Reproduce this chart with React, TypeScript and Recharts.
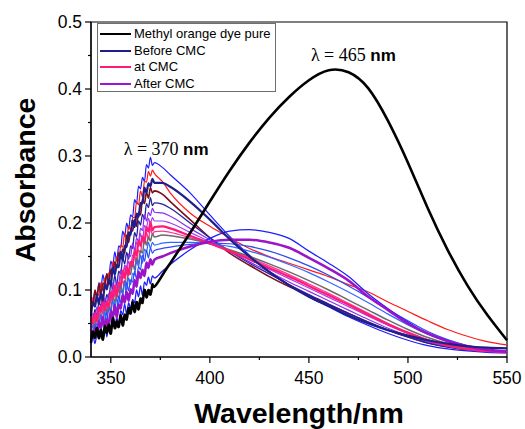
import { LineChart, Line, XAxis, YAxis, ReferenceArea, ReferenceDot, Legend } from 'recharts';

// wavelength grid (nm): 1 nm steps where the spectra are noisy, coarser afterwards
const wavelengths = [
  340, 341, 342, 343, 344, 345, 346, 347, 348, 349, 350, 351, 352, 353, 354, 355, 356,
  357, 358, 359, 360, 361, 362, 363, 364, 365, 366, 367, 368, 369, 370, 371, 372,
  376, 380, 390, 400, 410, 420, 430, 440, 450, 460, 470, 480, 490, 500, 510, 520, 530, 540, 550,
];

const pureDye = [
  0.021, 0.038, 0.029, 0.043, 0.028, 0.040, 0.026, 0.046, 0.036, 0.048, 0.035, 0.058, 0.043, 0.053, 0.045, 0.063, 0.047,
  0.063, 0.056, 0.073, 0.065, 0.082, 0.067, 0.082, 0.071, 0.087, 0.081, 0.100, 0.089, 0.100, 0.093, 0.108, 0.105,
  0.122, 0.14, 0.185, 0.232, 0.278, 0.32, 0.357, 0.388, 0.413, 0.428, 0.425, 0.401, 0.352, 0.29, 0.222, 0.16, 0.107, 0.063, 0.025,
];
const blueTop = [
  0.091, 0.081, 0.097, 0.087, 0.111, 0.104, 0.123, 0.110, 0.124, 0.119, 0.143, 0.136, 0.157, 0.143, 0.166, 0.163, 0.188,
  0.180, 0.200, 0.191, 0.212, 0.209, 0.235, 0.229, 0.255, 0.251, 0.268, 0.262, 0.287, 0.282, 0.298, 0.286, 0.290,
  0.283, 0.272, 0.245, 0.212, 0.18, 0.152, 0.128, 0.108, 0.09, 0.075, 0.06, 0.047, 0.035, 0.025, 0.017, 0.012, 0.009, 0.007, 0.006,
];
const redThin = [
  0.073, 0.089, 0.079, 0.095, 0.092, 0.111, 0.099, 0.118, 0.104, 0.126, 0.124, 0.142, 0.132, 0.150, 0.143, 0.167, 0.164,
  0.185, 0.174, 0.196, 0.189, 0.208, 0.208, 0.232, 0.227, 0.248, 0.239, 0.262, 0.261, 0.277, 0.270, 0.279, 0.274,
  0.262, 0.245, 0.215, 0.195, 0.178, 0.162, 0.15, 0.14, 0.13, 0.12, 0.108, 0.097, 0.082, 0.068, 0.054, 0.041, 0.031, 0.023, 0.018,
];
const beforeCmc = [
  0.061, 0.081, 0.075, 0.092, 0.079, 0.095, 0.084, 0.108, 0.101, 0.116, 0.107, 0.134, 0.123, 0.137, 0.134, 0.157, 0.144,
  0.166, 0.164, 0.186, 0.182, 0.204, 0.194, 0.214, 0.209, 0.230, 0.229, 0.253, 0.245, 0.259, 0.255, 0.266, 0.260,
  0.26, 0.254, 0.232, 0.205, 0.176, 0.15, 0.127, 0.107, 0.09, 0.076, 0.062, 0.05, 0.04, 0.032, 0.025, 0.02, 0.016, 0.014, 0.013,
];
const maroon = [
  0.088, 0.078, 0.100, 0.090, 0.109, 0.095, 0.110, 0.109, 0.124, 0.108, 0.131, 0.126, 0.142, 0.132, 0.156, 0.147, 0.161,
  0.155, 0.182, 0.171, 0.189, 0.188, 0.205, 0.195, 0.216, 0.212, 0.236, 0.229, 0.246, 0.237, 0.253, 0.245, 0.248,
  0.243, 0.232, 0.205, 0.178, 0.155, 0.137, 0.12, 0.105, 0.092, 0.078, 0.065, 0.052, 0.04, 0.03, 0.021, 0.015, 0.011, 0.009, 0.008,
];
const navy2 = [
  0.066, 0.055, 0.071, 0.060, 0.083, 0.075, 0.093, 0.080, 0.093, 0.087, 0.109, 0.101, 0.122, 0.107, 0.128, 0.124, 0.148,
  0.139, 0.156, 0.146, 0.166, 0.162, 0.186, 0.179, 0.203, 0.197, 0.213, 0.206, 0.229, 0.223, 0.238, 0.226, 0.230,
  0.228, 0.222, 0.2, 0.178, 0.158, 0.14, 0.124, 0.108, 0.093, 0.079, 0.065, 0.052, 0.04, 0.03, 0.021, 0.015, 0.011, 0.009, 0.008,
];
const purple1 = [
  0.046, 0.065, 0.059, 0.075, 0.062, 0.077, 0.065, 0.088, 0.080, 0.095, 0.085, 0.111, 0.099, 0.113, 0.108, 0.130, 0.117,
  0.137, 0.134, 0.154, 0.150, 0.170, 0.159, 0.178, 0.172, 0.192, 0.189, 0.212, 0.203, 0.216, 0.211, 0.222, 0.216,
  0.215, 0.21, 0.192, 0.175, 0.158, 0.142, 0.127, 0.112, 0.098, 0.084, 0.07, 0.056, 0.043, 0.032, 0.023, 0.016, 0.011, 0.008, 0.007,
];
const violet = [
  0.043, 0.058, 0.047, 0.062, 0.058, 0.076, 0.064, 0.082, 0.067, 0.088, 0.084, 0.101, 0.090, 0.106, 0.097, 0.121, 0.116,
  0.135, 0.123, 0.143, 0.134, 0.152, 0.150, 0.172, 0.165, 0.184, 0.173, 0.196, 0.193, 0.207, 0.199, 0.208, 0.203,
  0.203, 0.2, 0.186, 0.172, 0.158, 0.145, 0.131, 0.117, 0.103, 0.089, 0.075, 0.061, 0.047, 0.035, 0.025, 0.017, 0.012, 0.009, 0.007,
];
const atCmc = [
  0.061, 0.050, 0.065, 0.053, 0.075, 0.067, 0.084, 0.070, 0.082, 0.075, 0.097, 0.088, 0.107, 0.091, 0.111, 0.106, 0.129,
  0.118, 0.135, 0.123, 0.142, 0.137, 0.159, 0.151, 0.174, 0.166, 0.180, 0.172, 0.194, 0.187, 0.201, 0.189, 0.194,
  0.195, 0.192, 0.181, 0.17, 0.158, 0.146, 0.133, 0.12, 0.106, 0.092, 0.078, 0.063, 0.049, 0.036, 0.025, 0.017, 0.012, 0.009, 0.007,
];
const pink2 = [
  0.053, 0.043, 0.064, 0.053, 0.072, 0.057, 0.072, 0.069, 0.084, 0.067, 0.089, 0.083, 0.098, 0.088, 0.111, 0.101, 0.114,
  0.107, 0.133, 0.121, 0.138, 0.135, 0.152, 0.140, 0.160, 0.155, 0.178, 0.169, 0.186, 0.176, 0.191, 0.183, 0.187,
  0.188, 0.186, 0.178, 0.169, 0.159, 0.148, 0.136, 0.123, 0.109, 0.095, 0.08, 0.065, 0.05, 0.037, 0.026, 0.018, 0.012, 0.009, 0.007,
];
const gray = [
  0.036, 0.055, 0.047, 0.063, 0.050, 0.064, 0.052, 0.074, 0.065, 0.079, 0.068, 0.093, 0.081, 0.093, 0.088, 0.109, 0.094,
  0.114, 0.109, 0.129, 0.123, 0.142, 0.130, 0.148, 0.140, 0.159, 0.155, 0.177, 0.167, 0.179, 0.173, 0.184, 0.179,
  0.182, 0.181, 0.176, 0.169, 0.16, 0.15, 0.139, 0.127, 0.114, 0.1, 0.085, 0.07, 0.055, 0.041, 0.029, 0.02, 0.014, 0.01, 0.008,
];
const blue3 = [
  0.033, 0.048, 0.036, 0.051, 0.046, 0.063, 0.051, 0.068, 0.052, 0.072, 0.068, 0.084, 0.071, 0.087, 0.077, 0.100, 0.094,
  0.112, 0.099, 0.118, 0.108, 0.125, 0.122, 0.143, 0.135, 0.152, 0.140, 0.161, 0.157, 0.171, 0.162, 0.171, 0.167,
  0.17, 0.171, 0.171, 0.169, 0.165, 0.158, 0.149, 0.138, 0.126, 0.112, 0.097, 0.081, 0.064, 0.048, 0.034, 0.023, 0.015, 0.01, 0.008,
];
const blue4 = [
  0.038, 0.028, 0.048, 0.038, 0.056, 0.041, 0.055, 0.052, 0.067, 0.049, 0.071, 0.065, 0.080, 0.069, 0.091, 0.081, 0.093,
  0.086, 0.111, 0.099, 0.115, 0.112, 0.128, 0.116, 0.135, 0.130, 0.152, 0.143, 0.159, 0.148, 0.163, 0.155, 0.159,
  0.162, 0.164, 0.168, 0.17, 0.169, 0.165, 0.158, 0.148, 0.136, 0.122, 0.106, 0.089, 0.071, 0.054, 0.038, 0.026, 0.017, 0.011, 0.008,
];
const afterCmc = [
  0.041, 0.029, 0.043, 0.031, 0.052, 0.043, 0.060, 0.044, 0.056, 0.048, 0.068, 0.058, 0.077, 0.059, 0.078, 0.072, 0.093,
  0.081, 0.097, 0.084, 0.101, 0.094, 0.115, 0.105, 0.127, 0.118, 0.130, 0.121, 0.141, 0.133, 0.146, 0.138, 0.145,
  0.15, 0.155, 0.165, 0.172, 0.175, 0.175, 0.171, 0.163, 0.148, 0.132, 0.114, 0.09, 0.07, 0.05, 0.035, 0.024, 0.016, 0.011, 0.008,
];
const blueLate = [
  0.018, 0.032, 0.020, 0.033, 0.028, 0.044, 0.031, 0.047, 0.030, 0.049, 0.044, 0.058, 0.045, 0.059, 0.048, 0.069, 0.063,
  0.079, 0.064, 0.081, 0.070, 0.086, 0.081, 0.100, 0.090, 0.106, 0.092, 0.112, 0.107, 0.119, 0.109, 0.121, 0.118,
  0.128, 0.138, 0.16, 0.177, 0.188, 0.19, 0.186, 0.177, 0.158, 0.14, 0.12, 0.094, 0.072, 0.052, 0.035, 0.024, 0.016, 0.011, 0.008,
];

const xTicks = [350, 375, 400, 425, 450, 475, 500, 525, 550];
const xLabelled = [350, 400, 450, 500, 550];
const yTicks = [0, 0.05, 0.1, 0.15, 0.2, 0.25, 0.3, 0.35, 0.4, 0.45, 0.5];

const legendLabels = ['Methyl orange dye pure', 'Before CMC', 'at CMC', 'After CMC'];
const legendColors = ['#000000', '#1f1f8c', '#ff1a75', '#9b14e0'];

const series = [
  { key: 'blueTop', values: blueTop, color: '#1a1aff', width: 1.2, curve: 'monotone' },
  { key: 'redThin', values: redThin, color: '#ff1a1a', width: 1.2, curve: 'monotone' },
  { key: 'maroon', values: maroon, color: '#7a0f1e', width: 1.6, curve: 'monotone' },
  { key: 'navy2', values: navy2, color: '#22229e', width: 1.3, curve: 'monotone' },
  { key: 'purple1', values: purple1, color: '#8a2ff0', width: 1.2, curve: 'monotone' },
  { key: 'violet', values: violet, color: '#a43cf5', width: 1.2, curve: 'monotone' },
  { key: 'pink2', values: pink2, color: '#ff3399', width: 1.3, curve: 'monotone' },
  { key: 'gray', values: gray, color: '#6b6b6b', width: 1.5, curve: 'monotone' },
  { key: 'blue3', values: blue3, color: '#3366ff', width: 1.2, curve: 'monotone' },
  { key: 'blue4', values: blue4, color: '#2a4cf5', width: 1.2, curve: 'monotone' },
  { key: 'blueLate', values: blueLate, color: '#1f1fff', width: 1.3, curve: 'monotone' },
  { key: 'atCmc', values: atCmc, color: '#ff1a75', width: 2.2, curve: 'monotone' },
  { key: 'afterCmc', values: afterCmc, color: '#9b14c8', width: 2.6, curve: 'monotone' },
  { key: 'beforeCmc', values: beforeCmc, color: '#1f1f8c', width: 2.2, curve: 'monotone' },
  { key: 'pureDye', values: pureDye, color: '#000000', width: 2.6, curve: 'natural' },
];

const data = wavelengths.map((w, i) => {
  const row: Record<string, number> = { w };
  series.forEach((s) => {
    row[s.key] = s.values[i];
  });
  return row;
});

const sans = '"Liberation Sans", Arial, sans-serif';
const serif = '"Liberation Serif", "Times New Roman", serif';

const XTick = (props: any) => {
  const { x, y, payload } = props;
  const major = xLabelled.includes(payload.value);
  const axisY = y - 15;
  return (
    <g>
      <line x1={x} x2={x} y1={axisY} y2={axisY + (major ? 6 : 3)} stroke="#000" strokeWidth={1.2} />
      {major && (
        <text x={x} y={y} dy="0.71em" textAnchor="middle" fontFamily={sans} fontSize={17.5} fill="#000">
          {payload.value}
        </text>
      )}
    </g>
  );
};

const YTick = (props: any) => {
  const { x, y, payload } = props;
  const major = Math.round(payload.value * 20) % 2 === 0;
  const axisX = x + 9;
  return (
    <g>
      <line x1={axisX} x2={axisX - (major ? 6 : 3)} y1={y} y2={y} stroke="#000" strokeWidth={1.2} />
      {major && (
        <text x={x} y={y} dy="0.36em" textAnchor="end" fontFamily={sans} fontSize={17.5} fill="#000">
          {payload.value.toFixed(1)}
        </text>
      )}
    </g>
  );
};

const peakLabel = (text: string) => (props: any) => {
  const { viewBox } = props;
  return (
    <text x={viewBox.x} y={viewBox.y} fill="#000">
      <tspan fontFamily={serif} fontSize={18}>{text} </tspan>
      <tspan fontFamily={sans} fontSize={17} fontWeight="bold">nm</tspan>
    </text>
  );
};

const renderLegend = () => (
  <div
    style={{
      width: 179,
      height: 69,
      border: '1px solid #6e6e6e',
      background: '#fff',
      boxSizing: 'border-box',
      padding: '2px 0 0 2px',
      fontFamily: sans,
      fontSize: 13,
      color: '#000',
    }}
  >
    {legendLabels.map((label, i) => (
      <div key={label} style={{ display: 'flex', alignItems: 'center', height: 16.5, lineHeight: '16.5px' }}>
        <span
          style={{
            display: 'inline-block',
            width: 31,
            height: 0,
            borderTop: `${i === 0 ? 2.5 : 2}px solid ${legendColors[i]}`,
            marginRight: 3,
          }}
        />
        <span>{label}</span>
      </div>
    ))}
  </div>
);

export default function App() {
  // body margin is moved into the wrapper's padding so the whole 525x429 page belongs to the chart
  return (
    <div style={{ width: 525, height: 429, paddingTop: 8, paddingLeft: 8, boxSizing: 'border-box', background: '#fff' }}>
      <style>{'body { margin: 0; }'}</style>
      <LineChart width={517} height={421} data={data} margin={{ top: 14, right: 18, bottom: 0, left: 0 }}>
        <XAxis
          dataKey="w"
          type="number"
          domain={[340, 550]}
          ticks={xTicks}
          interval={0}
          height={72}
          tickSize={6}
          tickMargin={9}
          tickLine={false}
          tick={<XTick />}
          axisLine={{ stroke: '#000', strokeWidth: 1.2 }}
          label={(p: any) => (
            <text
              x={p.viewBox.x + p.viewBox.width / 2}
              y={p.viewBox.y + 66}
              textAnchor="middle"
              fontFamily={sans}
              fontWeight="bold"
              fontSize={28.5}
              fill="#000"
            >
              Wavelength/nm
            </text>
          )}
        />
        <YAxis
          type="number"
          domain={[0, 0.5]}
          ticks={yTicks}
          interval={0}
          width={83}
          tickSize={6}
          tickMargin={3}
          tickLine={false}
          tick={<YTick />}
          axisLine={{ stroke: '#000', strokeWidth: 1.2 }}
          label={() => (
            <text
              x={27}
              y={172}
              transform="rotate(-90 27 172)"
              textAnchor="middle"
              fontFamily={sans}
              fontWeight="bold"
              fontSize={28.5}
              fill="#000"
            >
              Absorbance
            </text>
          )}
        />
        <ReferenceArea x1={340} x2={550} y1={0} y2={0.5} fill="none" stroke="#000" strokeWidth={1.2} />
        {series.map((s) => (
          <Line
            key={s.key}
            dataKey={s.key}
            type={s.curve as any}
            stroke={s.color}
            strokeWidth={s.width}
            dot={false}
            legendType="none"
            isAnimationActive={false}
          />
        ))}
        <ReferenceDot x={357} y={0.3} r={1} fill="none" stroke="none" label={peakLabel('\u03bb = 370')} />
        <ReferenceDot x={451.5} y={0.44} r={1} fill="none" stroke="none" label={peakLabel('\u03bb = 465')} />
        <Legend
          layout="vertical"
          align="center"
          verticalAlign="middle"
          content={renderLegend}
          wrapperStyle={{ left: 89, top: 15, width: 179, height: 69 }}
        />
      </LineChart>
    </div>
  );
}
